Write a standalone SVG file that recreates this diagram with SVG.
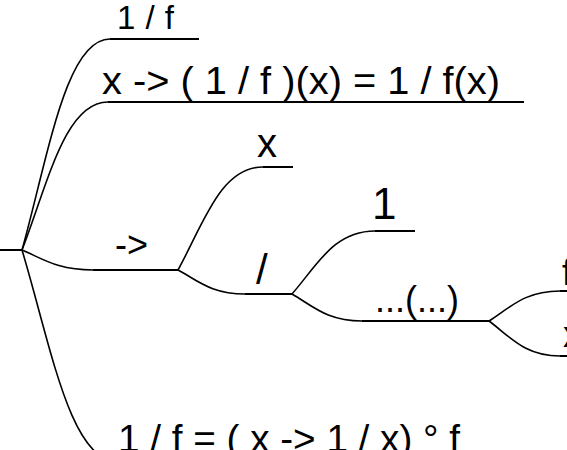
<svg xmlns="http://www.w3.org/2000/svg" width="567" height="450" viewBox="0 0 567 450">
<style>
.c{fill:none;stroke:#000;stroke-width:1.6}
.u{stroke:#000;stroke-width:2}
text{font-family:"Liberation Sans",Arial,sans-serif;fill:#000}
</style>
<rect width="567" height="450" fill="#fff"/>
<g id="connectors">
<path class="c" d="M22,250 C48.4,155 66,39 110,39"/>
<path class="c" d="M22,250 C47.8,183.4 65,102 108,102"/>
<path class="c" d="M22,250 C43.3,259 57.5,270 93,270"/>
<path class="c" d="M22,250 C50.8,345.4 70,462 118,462"/>
<path class="c" d="M178,270 C203.5,223.6 220.5,167 263,167"/>
<path class="c" d="M178,270 C198.1,280.8 211.5,294 245,294"/>
<path class="c" d="M292,294 C316.9,265.6 333.5,231 375,231"/>
<path class="c" d="M292,294 C313,306.2 327,321 362,321"/>
<path class="c" d="M489,321 C510.3,307.5 524.5,291 560,291"/>
<path class="c" d="M489,321 C510.3,336.8 524.5,356 560,356"/>
</g>
<g id="root"><line class="u" x1="0" y1="250" x2="22" y2="250"/></g>
<g id="n-1f"><line class="u" x1="110" y1="39" x2="199" y2="39"/><text x="117" y="29" font-size="33" textLength="57">1 / f</text></g>
<g id="n-def"><line class="u" x1="108" y1="102" x2="524" y2="102"/><text x="102" y="94" font-size="38" textLength="398" lengthAdjust="spacingAndGlyphs">x -&gt; ( 1 / f )(x) = 1 / f(x)</text></g>
<g id="n-arrow"><line class="u" x1="93" y1="270" x2="178" y2="270"/><text x="115" y="257" font-size="36">-&gt;</text></g>
<g id="n-x"><line class="u" x1="263" y1="167" x2="293" y2="167"/><text x="257" y="157" font-size="40">x</text></g>
<g id="n-div"><line class="u" x1="245" y1="294" x2="292" y2="294"/><text x="256" y="284" font-size="42">/</text></g>
<g id="n-1"><line class="u" x1="375" y1="231" x2="415" y2="231"/><text x="372" y="219" font-size="44">1</text></g>
<g id="n-app"><line class="u" x1="362" y1="321" x2="489" y2="321"/><text x="375" y="312" font-size="36">...(...)</text></g>
<g id="n-f"><line class="u" x1="560" y1="291" x2="620" y2="291"/><text x="562" y="285" font-size="36">f</text></g>
<g id="n-x2"><line class="u" x1="560" y1="356" x2="620" y2="356"/><text x="563" y="347" font-size="36">x</text></g>
<g id="n-comp"><line class="u" x1="118" y1="462" x2="470" y2="462"/><text x="118" y="452" font-size="38" textLength="342" lengthAdjust="spacingAndGlyphs">1 / f = ( x -&gt; 1 / x) ° f</text></g>
</svg>
